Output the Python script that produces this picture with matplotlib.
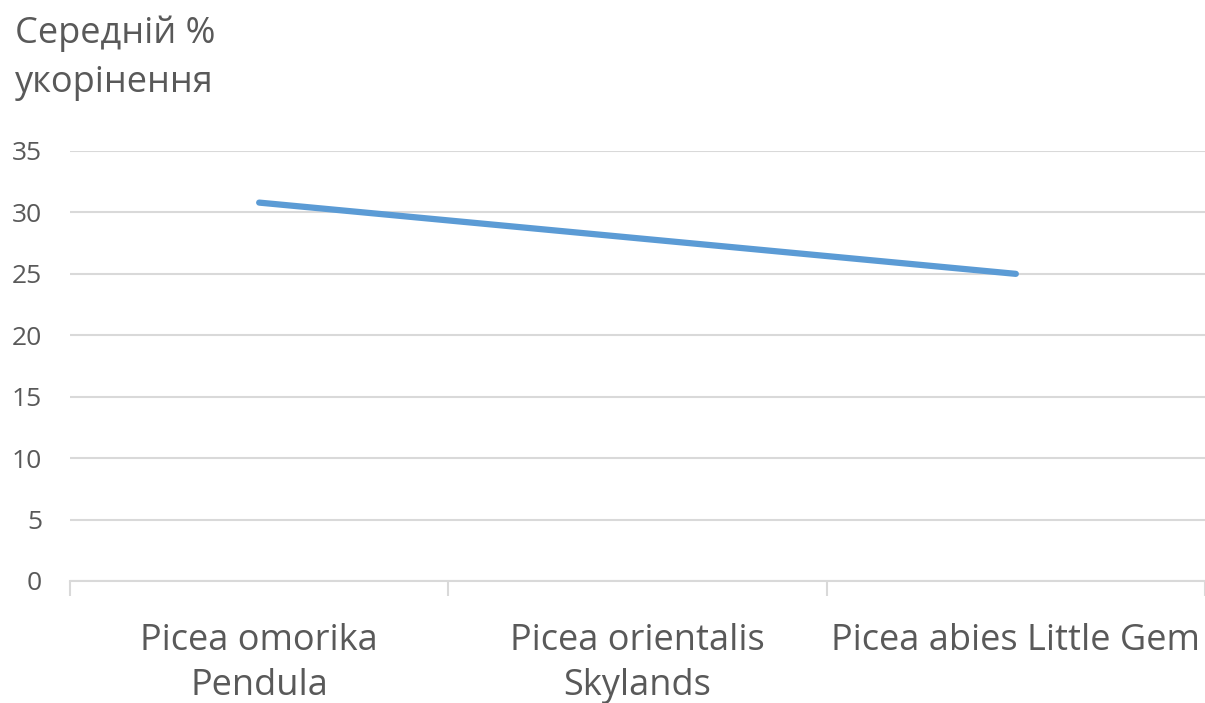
import matplotlib.pyplot as plt
import numpy as np

# Mean rooting percentage per spruce cultivar
cultivars = ['Picea omorika\nPendula', 'Picea orientalis\nSkylands', 'Picea abies Little Gem']
rooting = [30.8, 27.9, 25.0]
yticks = [0, 5, 10, 15, 20, 25, 30, 35]

grey_text = '#595959'
grid_col = '#d9d9d9'
line_col = '#5b9bd5'

plt.rcParams['font.family'] = ['Open Sans', 'DejaVu Sans']

fig = plt.figure(figsize=(12.05, 7.03), dpi=100)
ax = fig.add_axes([70 / 1205, 1 - 581 / 703, 1 - 70 / 1205, (581 - 151) / 703])

x = np.arange(len(cultivars))
ax.plot(x, rooting, color=line_col, lw=4.5, solid_capstyle='round')

ax.set_xlim(-0.5, len(cultivars) - 0.5)
ax.set_ylim(0, 35)
ax.set_yticks(yticks)
ax.set_yticklabels([str(v) for v in yticks], color=grey_text, fontsize=19)
ax.yaxis.grid(True, color=grid_col, lw=1.5)
ax.set_axisbelow(True)
ax.tick_params(axis='y', length=0, pad=20)

# category labels centred, tick marks on the category boundaries
ax.set_xticks(x)
ax.set_xticklabels(cultivars, color=grey_text, fontsize=26, linespacing=1.35)
ax.tick_params(axis='x', which='major', length=0, pad=30)
ax.set_xticks(np.arange(-0.5, len(cultivars)), minor=True)
ax.tick_params(axis='x', which='minor', length=11, width=1.5, color=grid_col)

for side in ['top', 'right', 'left']:
    ax.spines[side].set_visible(False)
ax.spines['bottom'].set_color(grid_col)
ax.spines['bottom'].set_linewidth(1.5)

fig.text(15 / 1205, 1 - 16 / 703, 'Середній %\nукорінення', color=grey_text,
         fontsize=26, va='top', ha='left', linespacing=1.45)

fig.savefig('out.png', dpi=100)
